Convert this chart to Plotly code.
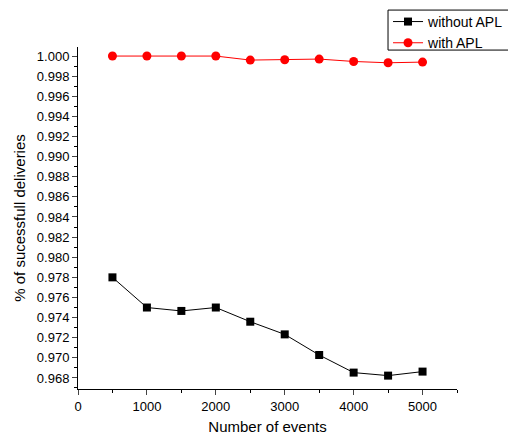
import plotly.graph_objects as go

events = [500, 1000, 1500, 2000, 2500, 3000, 3500, 4000, 4500, 5000]
without_apl = [0.9780, 0.9750, 0.97466, 0.9750, 0.97359, 0.97233, 0.97028, 0.96853, 0.96823, 0.96863]
with_apl = [1.0000, 1.0000, 1.0000, 1.0000, 0.99960, 0.99963, 0.99970, 0.99946, 0.99933, 0.99940]

y_ticks = [0.968 + 0.002 * i for i in range(17)]
x_ticks = [0, 1000, 2000, 3000, 4000, 5000]

font = "Liberation Sans, Arial, sans-serif"

fig = go.Figure()
fig.add_trace(go.Scatter(
    x=events, y=without_apl, name="without APL", mode="lines+markers",
    line=dict(color="black", width=1),
    marker=dict(symbol="square", size=8, color="black"),
))
fig.add_trace(go.Scatter(
    x=events, y=with_apl, name="with APL", mode="lines+markers",
    line=dict(color="red", width=1),
    marker=dict(symbol="circle", size=9, color="red"),
))

# legend frame drawn as a paper-space rectangle (tighter than plotly's own border)
fig.add_shape(
    type="rect", xref="paper", yref="paper",
    x0=0.818, x1=1.2, y0=0.991, y1=1.108,
    line=dict(color="black", width=1), fillcolor="rgba(0,0,0,0)",
)

fig.update_layout(
    width=508, height=439,
    margin=dict(l=78, r=51, t=47, b=50, autoexpand=False),
    paper_bgcolor="white", plot_bgcolor="white",
    font=dict(family=font, size=13, color="black"),
    legend=dict(
        x=0.818, y=1.12, xanchor="left", yanchor="top",
        borderwidth=0, bgcolor="rgba(255,255,255,0)",
        font=dict(size=14), itemwidth=30, tracegroupgap=0,
    ),
    xaxis=dict(
        range=[0, 5500], tickvals=x_ticks, ticks="outside", ticklen=5,
        showline=True, linecolor="black", linewidth=1, showgrid=False, zeroline=False,
        automargin=False,
        minor=dict(dtick=500, ticks="outside", ticklen=3, tickcolor="black", showgrid=False),
        title=dict(text="Number of events", font=dict(size=15), standoff=8),
        tickfont=dict(size=13),
    ),
    yaxis=dict(
        range=[0.9669, 1.0009], tickvals=y_ticks, tickformat=".3f",
        ticks="outside", ticklen=5,
        showline=True, linecolor="black", linewidth=1, showgrid=False, zeroline=False,
        automargin=False,
        minor=dict(dtick=0.001, tick0=0.968, ticks="outside", ticklen=3, tickcolor="black", showgrid=False),
        title=dict(text="% of sucessfull deliveries", font=dict(size=15), standoff=7),
        tickfont=dict(size=13),
    ),
)

fig.write_html(
    "out.html",
    config={"displayModeBar": False},
    post_script="document.body.style.margin='0';",
)
